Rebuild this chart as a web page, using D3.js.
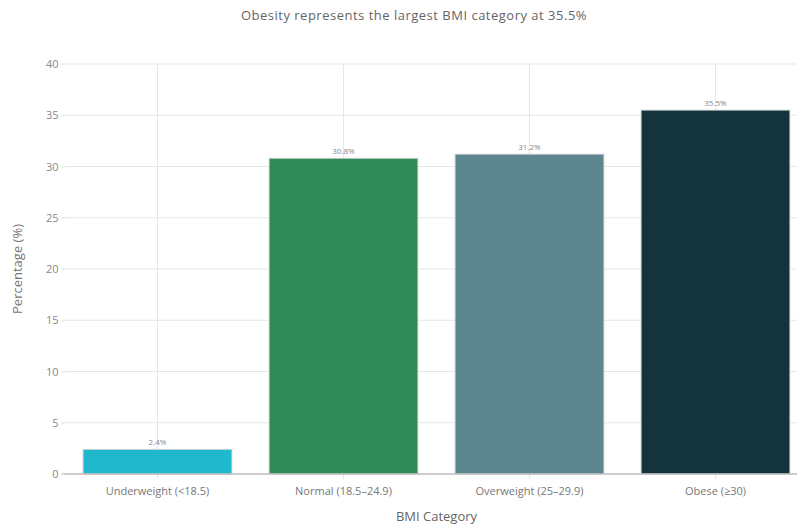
<!DOCTYPE html>
<html>
<head>
<meta charset="utf-8">
<script src="https://cdn.jsdelivr.net/npm/d3@7"></script>
<style>
  html, body { margin: 0; padding: 0; background: #fff; overflow: hidden; }
  svg { display: block; font-family: "Open Sans", "Noto Sans", sans-serif; }
</style>
</head>
<body>
<svg id="chart" width="797" height="527"></svg>
<script>
// BMI category shares (percent of population)
const categories = ["Underweight (<18.5)", "Normal (18.5–24.9)", "Overweight (25–29.9)", "Obese (≥30)"];
const percentages = [2.4, 30.8, 31.2, 35.5];
const barColors = ["#1FB8CD", "#2E8B57", "#5D878F", "#13343B"];
const yTicks = [0, 5, 10, 15, 20, 25, 30, 35, 40];
const subtitleText = "Obesity represents the largest BMI category at 35.5%";
const xTitle = "BMI Category";
const yTitle = "Percentage (%)";

const svg = d3.select("#chart");
const plot = { left: 64.5, right: 808.5, top: 64, bottom: 474 };

const x = d3.scaleBand()
  .domain(categories)
  .range([plot.left, plot.right])
  .paddingInner(0.2)
  .paddingOuter(0.1);

const y = d3.scaleLinear()
  .domain([0, 40])
  .range([plot.bottom, plot.top]);

// Horizontal gridlines
svg.append("g")
  .selectAll("line")
  .data(yTicks.filter(d => d !== 0))
  .join("line")
  .attr("x1", plot.left - 3)
  .attr("x2", 797)
  .attr("y1", d => y(d))
  .attr("y2", d => y(d))
  .attr("stroke", "#e6e6e6")
  .attr("stroke-width", 1);

// Vertical gridlines at category centres
svg.append("g")
  .selectAll("line")
  .data(categories)
  .join("line")
  .attr("x1", d => x(d) + x.bandwidth() / 2)
  .attr("x2", d => x(d) + x.bandwidth() / 2)
  .attr("y1", plot.top)
  .attr("y2", plot.bottom + 5)
  .attr("stroke", "#e6e6e6")
  .attr("stroke-width", 1);

// Bars
svg.append("g")
  .selectAll("rect")
  .data(categories)
  .join("rect")
  .attr("x", d => x(d))
  .attr("y", (d, i) => y(percentages[i]))
  .attr("width", x.bandwidth())
  .attr("height", (d, i) => y(0) - y(percentages[i]))
  .attr("fill", (d, i) => barColors[i])
  .attr("stroke", "rgba(210,210,210,0.9)")
  .attr("stroke-width", 1);

// Value labels above bars
svg.append("g")
  .selectAll("text")
  .data(categories)
  .join("text")
  .attr("x", d => x(d) + x.bandwidth() / 2)
  .attr("y", (d, i) => y(percentages[i]) - 4)
  .attr("text-anchor", "middle")
  .attr("font-size", 8)
  .attr("fill", "#888")
  .text((d, i) => percentages[i].toFixed(1) + "%");

// Zero line
svg.append("line")
  .attr("x1", plot.left - 3)
  .attr("x2", 797)
  .attr("y1", y(0))
  .attr("y2", y(0))
  .attr("stroke", "#bdbdbd")
  .attr("stroke-width", 1.5);

// Y axis
const yAxis = svg.append("g")
  .attr("transform", `translate(${plot.left},0)`)
  .call(d3.axisLeft(y).tickValues(yTicks).tickSize(3).tickPadding(3));
yAxis.select(".domain").remove();
yAxis.selectAll(".tick line").attr("stroke", "#e6e6e6");
yAxis.selectAll(".tick text")
  .attr("font-size", 11)
  .attr("fill", "#888")
  .attr("font-family", "Open Sans, sans-serif");

// X axis
const xAxis = svg.append("g")
  .attr("transform", `translate(0,${plot.bottom})`)
  .call(d3.axisBottom(x).tickSize(0).tickPadding(13));
xAxis.select(".domain").remove();
xAxis.selectAll(".tick text")
  .attr("font-size", 11)
  .attr("fill", "#777")
  .attr("font-family", "Open Sans, sans-serif");

// Axis titles
svg.append("text")
  .attr("x", (plot.left + plot.right) / 2)
  .attr("y", 521)
  .attr("text-anchor", "middle")
  .attr("font-size", 13)
  .attr("fill", "#666")
  .text(xTitle);

svg.append("text")
  .attr("transform", `translate(22,${(plot.top + plot.bottom) / 2}) rotate(-90)`)
  .attr("text-anchor", "middle")
  .attr("font-size", 13)
  .attr("fill", "#777")
  .text(yTitle);

// Subtitle
svg.append("text")
  .attr("x", 414)
  .attr("y", 20)
  .attr("text-anchor", "middle")
  .attr("font-size", 13)
  .attr("letter-spacing", 0.5)
  .attr("fill", "#666")
  .text(subtitleText);
</script>
</body>
</html>
